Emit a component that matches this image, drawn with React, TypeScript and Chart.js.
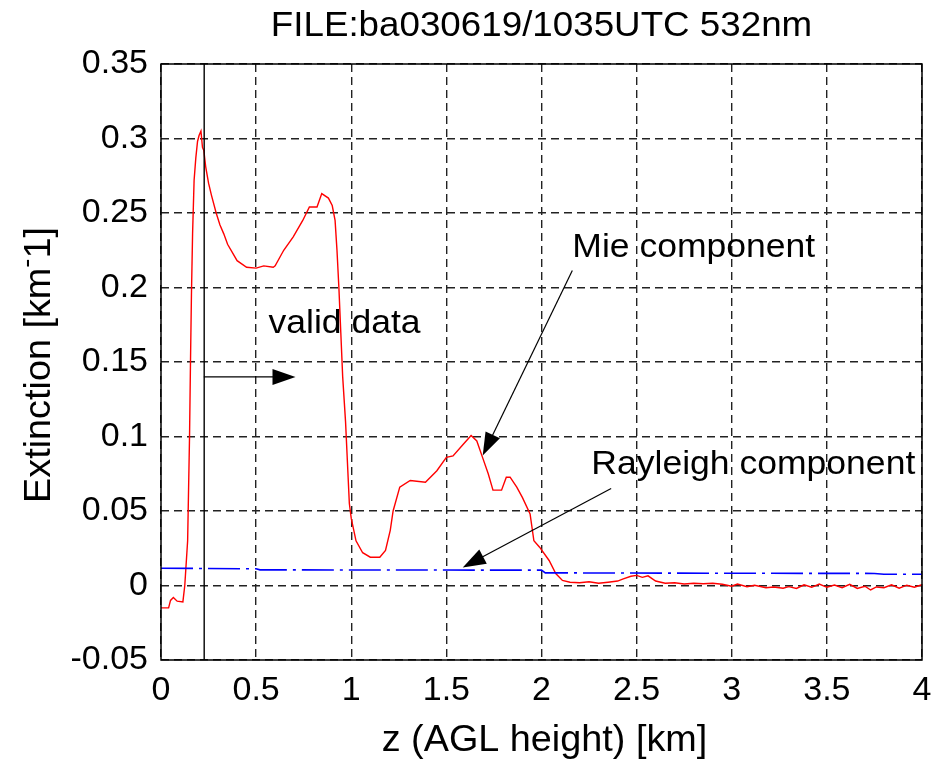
import React, { useEffect, useRef } from "react";
import { Chart, registerables } from "chart.js";
Chart.register(...registerables);

const TITLE = "FILE:ba030619/1035UTC 532nm";
const X_LABEL = "z (AGL height) [km]";
const Y_LABEL_PARTS = ["Extinction [km", "-", "1]"];

const X_TICKS = [0, 0.5, 1, 1.5, 2, 2.5, 3, 3.5, 4];
const Y_TICKS = [-0.05, 0, 0.05, 0.1, 0.15, 0.2, 0.25, 0.3, 0.35];

const MIE_Z = [
  0, 0.04, 0.05, 0.065, 0.085, 0.115, 0.125, 0.14, 0.15, 0.155, 0.16, 0.166, 0.174, 0.183, 0.192, 0.2, 0.21,
  0.218, 0.225, 0.235, 0.25, 0.265, 0.29, 0.31, 0.33, 0.35, 0.4, 0.45, 0.5, 0.54, 0.59, 0.6, 0.645, 0.695,
  0.745, 0.78, 0.82, 0.845, 0.88, 0.9, 0.915, 0.925, 0.935, 0.945, 0.955, 0.97, 0.99, 1.0, 1.025, 1.06, 1.1,
  1.15, 1.18, 1.205, 1.22, 1.255, 1.31, 1.39, 1.45, 1.5, 1.535, 1.59, 1.63, 1.66, 1.69, 1.72, 1.745, 1.79,
  1.815, 1.835, 1.87, 1.9, 1.94, 1.96, 1.99, 2.04, 2.075, 2.11, 2.15, 2.2, 2.25, 2.3, 2.35, 2.4, 2.43, 2.47,
  2.5, 2.53, 2.56, 2.6, 2.65, 2.7, 2.75, 2.8, 2.85, 2.9, 2.95, 3.0, 3.03, 3.08, 3.12, 3.18, 3.22, 3.27, 3.3,
  3.34, 3.38, 3.42, 3.46, 3.5, 3.54, 3.58, 3.62, 3.66, 3.7, 3.73, 3.76, 3.8, 3.84, 3.88, 3.92, 3.96, 4.0,
];
const MIE_EXT = [
  -0.015, -0.015, -0.01, -0.008, -0.0105, -0.011, 0.0, 0.03, 0.1, 0.15, 0.195, 0.236, 0.272, 0.287, 0.298,
  0.302, 0.305, 0.294, 0.292, 0.281, 0.27, 0.262, 0.25, 0.242, 0.236, 0.229, 0.218, 0.2136, 0.213, 0.2145,
  0.2136, 0.2145, 0.225, 0.234, 0.245, 0.254, 0.254, 0.263, 0.26, 0.255, 0.245, 0.225, 0.2, 0.17, 0.14, 0.11,
  0.055, 0.045, 0.03, 0.022, 0.019, 0.019, 0.0235, 0.037, 0.05, 0.066, 0.0705, 0.0693, 0.077, 0.086, 0.087,
  0.095, 0.1007, 0.097, 0.086, 0.075, 0.064, 0.064, 0.0727, 0.0727, 0.066, 0.059, 0.048, 0.03, 0.0257,
  0.0168, 0.008, 0.0034, 0.0022, 0.0018, 0.0025, 0.0015, 0.0022, 0.003, 0.0045, 0.0062, 0.0068, 0.0055,
  0.0065, 0.003, 0.0015, 0.0018, 0.001, 0.0015, 0.0012, 0.0015, 0.0008, -0.0005, 0.001, -0.0008, 0.0002,
  -0.0015, -0.001, -0.0018, -0.0008, -0.002, 0.0005, -0.0012, 0.001, -0.0012, 0.0003, -0.0015, 0.0008,
  -0.002, -0.0005, -0.003, -0.001, -0.0015, 0.0005, -0.0018, 0.0002, -0.0012, 0.0005,
];

const RAY_Z = [0, 0.5, 0.52, 2.0, 2.02, 3.0, 3.75, 3.8, 4.0];
const RAY_EXT = [0.0116, 0.0112, 0.0105, 0.0103, 0.0085, 0.0082, 0.0081, 0.0076, 0.0076];

const VALID_Z = 0.227;

const NOTE_TEXT = ["valid data", "Mie component", "Rayleigh component"];
const NOTE_X = [0.565, 2.162, 2.262];
const NOTE_Y = [0.176, 0.227, 0.0812];
const ARROW_FROM_X = [0.225, 2.162, 2.366];
const ARROW_FROM_Y = [0.14, 0.2114, 0.0651];
const ARROW_TO_X = [0.707, 1.691, 1.586];
const ARROW_TO_Y = [0.14, 0.0872, 0.0121];

const FONT_FAMILY = "'Liberation Sans', Arial, Helvetica, sans-serif";
const fmt = (v: number) => String(Number(v.toFixed(2)));

function drawArrow(ctx: CanvasRenderingContext2D, x1: number, y1: number, x2: number, y2: number) {
  const ang = Math.atan2(y2 - y1, x2 - x1);
  const L = 23;
  const W = 8;
  const c = Math.cos(ang);
  const s = Math.sin(ang);
  ctx.beginPath();
  ctx.moveTo(x1, y1);
  ctx.lineTo(x2 - c * L * 0.8, y2 - s * L * 0.8);
  ctx.stroke();
  ctx.beginPath();
  ctx.moveTo(x2, y2);
  ctx.lineTo(x2 - c * L - s * W, y2 - s * L + c * W);
  ctx.lineTo(x2 - c * L + s * W, y2 - s * L - c * W);
  ctx.closePath();
  ctx.fill();
}

function stretchedText(
  ctx: CanvasRenderingContext2D,
  text: string,
  x: number,
  y: number,
  size: number,
  align: CanvasTextAlign,
  baseline: CanvasTextBaseline,
  sx = 1.05
) {
  ctx.save();
  ctx.translate(x, y);
  ctx.scale(sx, 1);
  ctx.font = `${size}px ${FONT_FAMILY}`;
  ctx.textAlign = align;
  ctx.textBaseline = baseline;
  ctx.fillText(text, 0, 0);
  ctx.restore();
}

const overlay = {
  id: "overlay",
  afterDraw(chart: any) {
    const ctx: CanvasRenderingContext2D = chart.ctx;
    const { left, right, top, bottom } = chart.chartArea;
    const xs = chart.scales.x;
    const ys = chart.scales.y;
    ctx.save();
    ctx.strokeStyle = "#000";
    ctx.lineWidth = 1.5;
    ctx.setLineDash([]);
    ctx.strokeRect(left, top, right - left, bottom - top);

    ctx.fillStyle = "#000";
    stretchedText(ctx, TITLE, (left + right) / 2, 36, 35, "center", "alphabetic", 1.05);
    stretchedText(ctx, X_LABEL, (left + right) / 2 + 3, 751, 36, "center", "alphabetic", 1.05);

    // y label rotated
    ctx.save();
    ctx.translate(50, (top + bottom) / 2 + 3);
    ctx.rotate(-Math.PI / 2);
    ctx.scale(1.05, 1);
    ctx.font = `36px ${FONT_FAMILY}`;
    const w0 = ctx.measureText(Y_LABEL_PARTS[0]).width;
    ctx.font = `26px ${FONT_FAMILY}`;
    const w1 = ctx.measureText(Y_LABEL_PARTS[1]).width;
    ctx.font = `36px ${FONT_FAMILY}`;
    const w2 = ctx.measureText(Y_LABEL_PARTS[2]).width;
    let sx = -(w0 + w1 + w2) / 2;
    ctx.textAlign = "left";
    ctx.textBaseline = "alphabetic";
    ctx.fillText(Y_LABEL_PARTS[0], sx, 0);
    sx += w0;
    ctx.font = `26px ${FONT_FAMILY}`;
    ctx.fillText(Y_LABEL_PARTS[1], sx, -15);
    sx += w1;
    ctx.font = `36px ${FONT_FAMILY}`;
    ctx.fillText(Y_LABEL_PARTS[2], sx, 0);
    ctx.restore();

    for (let i = 0; i < NOTE_TEXT.length; i++) {
      stretchedText(
        ctx,
        NOTE_TEXT[i],
        xs.getPixelForValue(NOTE_X[i]),
        ys.getPixelForValue(NOTE_Y[i]),
        34,
        "left",
        "middle",
        1.045
      );
    }
    ctx.lineWidth = 1.2;
    ctx.strokeStyle = "#000";
    for (let i = 0; i < ARROW_FROM_X.length; i++) {
      drawArrow(
        ctx,
        xs.getPixelForValue(ARROW_FROM_X[i]),
        ys.getPixelForValue(ARROW_FROM_Y[i]),
        xs.getPixelForValue(ARROW_TO_X[i]),
        ys.getPixelForValue(ARROW_TO_Y[i])
      );
    }
    ctx.restore();
  },
};

export default function App() {
  const ref = useRef<HTMLCanvasElement | null>(null);
  useEffect(() => {
    if (!ref.current) return;
    const tickFont = { family: FONT_FAMILY, size: 34 };
    const chart = new Chart(ref.current, {
      type: "line",
      data: {
        datasets: [
          {
            label: "valid limit",
            data: [
              { x: VALID_Z, y: Y_TICKS[0] },
              { x: VALID_Z, y: Y_TICKS[Y_TICKS.length - 1] },
            ],
            borderColor: "#000",
            borderWidth: 1.4,
            pointRadius: 0,
          },
          {
            label: "Rayleigh component",
            data: RAY_Z.map((z, i) => ({ x: z, y: RAY_EXT[i] })),
            borderColor: "#0000ff",
            borderWidth: 1.6,
            borderDash: [32, 6, 3, 6],
            pointRadius: 0,
          },
          {
            label: "Mie component",
            data: MIE_Z.map((z, i) => ({ x: z, y: MIE_EXT[i] })),
            borderColor: "#ff0000",
            borderWidth: 1.4,
            pointRadius: 0,
          },
        ],
      },
      options: {
        responsive: false,
        animation: false,
        devicePixelRatio: 1,
        layout: { padding: { left: 0, top: 64, right: 29, bottom: 0 } },
        plugins: { legend: { display: false }, tooltip: { enabled: false }, title: { display: false } },
        elements: { line: { tension: 0 }, point: { radius: 0 } },
        scales: {
          x: {
            type: "linear",
            min: 0,
            max: 4,
            afterBuildTicks: (s: any) => {
              s.ticks = X_TICKS.map((v) => ({ value: v }));
            },
            afterFit: (s: any) => {
              s.height = 102;
            },
            grid: { color: "#222", lineWidth: 1.4, drawTicks: false },
            border: { display: false, dash: [8, 5] },
            ticks: {
              font: tickFont,
              color: "#000",
              padding: 10,
              maxRotation: 0,
              autoSkip: false,
              callback: (v: any) => fmt(Number(v)),
            },
          },
          y: {
            type: "linear",
            min: -0.05,
            max: 0.35,
            afterBuildTicks: (s: any) => {
              s.ticks = Y_TICKS.map((v) => ({ value: v }));
            },
            afterFit: (s: any) => {
              s.width = 161;
            },
            grid: { color: "#222", lineWidth: 1.4, drawTicks: false },
            border: { display: false, dash: [8, 5] },
            ticks: {
              font: tickFont,
              color: "#000",
              padding: 13,
              autoSkip: false,
              callback: (v: any) => fmt(Number(v)),
            },
          },
        },
      },
      plugins: [overlay],
    } as any);
    return () => chart.destroy();
  }, []);
  return (
    <div style={{ position: "absolute", left: 0, top: 0, width: 951, height: 762, background: "#fff" }}>
      <canvas ref={ref} width={951} height={762} />
    </div>
  );
}
